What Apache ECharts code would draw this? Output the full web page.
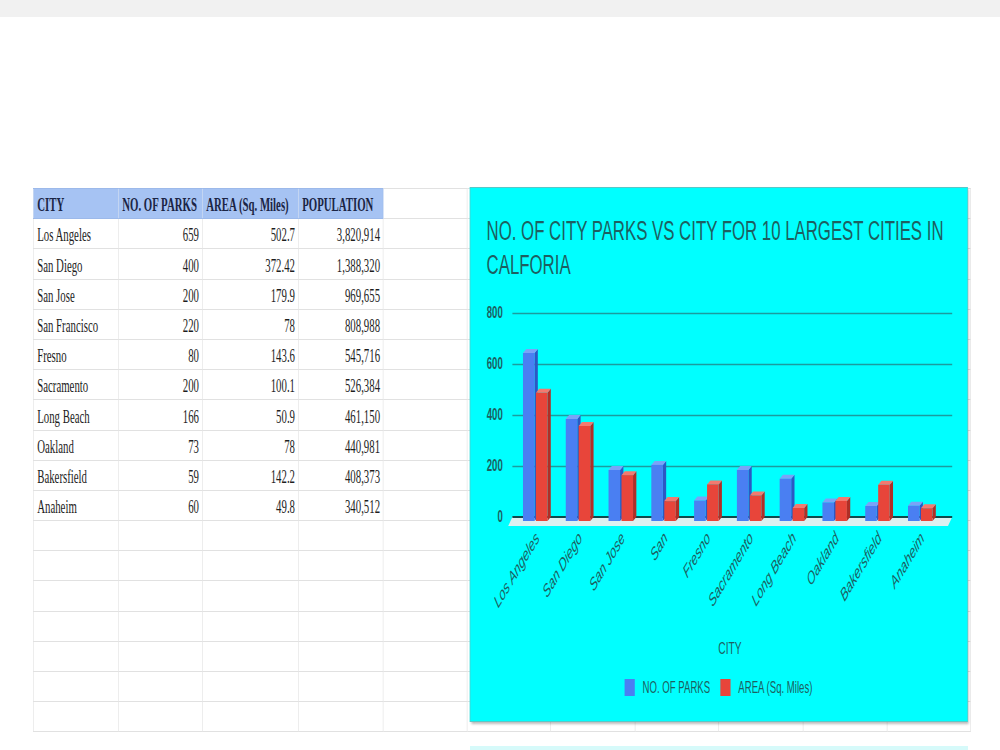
<!DOCTYPE html>
<html>
<head>
<meta charset="utf-8">
<script src="https://cdn.jsdelivr.net/npm/echarts/dist/echarts.min.js"></script>
<style>
  html, body { margin: 0; padding: 0; background: #ffffff; width: 1000px; height: 750px; overflow: hidden; }
  #topbar { position: absolute; left: 0; top: 0; width: 1000px; height: 17px; background: #f1f1f1; }
  #bottomstrip { position: absolute; left: 470px; top: 746px; width: 498px; height: 4px; background: #d6fafa; }
  #wrap { position: absolute; left: 0; top: 0; width: 1666.67px; height: 750px; transform: scaleX(0.6); transform-origin: 0 0; }
  #tbl { position: absolute; left: 55px; top: 188px; border-collapse: collapse; table-layout: fixed; }
  #tbl td { box-sizing: border-box; height: 30.2px; border: 1.4px solid #e1e1e1; padding: 0 5px 3px 6px; vertical-align: bottom;
            font-family: 'Liberation Serif', 'Times New Roman', serif; font-size: 18px; line-height: 20px; color: #1e1e1e;
            white-space: nowrap; overflow: hidden; }
  #tbl td.num { text-align: right; }
  #tbl tr.hdr td { font-weight: bold; color: #1b2545; }
  #tbl tr.hdr td.hb { background: #a6c3f3; border-color: #9cb9ea; }
  #chartbox { position: absolute; left: 783.33px; top: 187px; width: 830px; height: 535px; box-sizing: border-box;
              background: #00ffff; border: 1px solid #59c7c7; box-shadow: 2px 2px 3px rgba(0,0,0,0.28); }
  #chart { position: absolute; left: 0; top: 0; width: 828px; height: 533px; }
</style>
</head>
<body>
<div id="topbar"></div>
<div id="bottomstrip"></div>
<div id="wrap">
  <table id="tbl"></table>
  <div id="chartbox"><div id="chart"></div></div>
</div>
<script>
// ---------------- data ----------------
const headers = ['CITY', 'NO. OF PARKS', 'AREA (Sq. Miles)', 'POPULATION'];
const cities = ['Los Angeles', 'San Diego', 'San Jose', 'San Francisco', 'Fresno', 'Sacramento', 'Long Beach', 'Oakland', 'Bakersfield', 'Anaheim'];
const parks = [659, 400, 200, 220, 80, 200, 166, 73, 59, 60];
const area = [502.7, 372.42, 179.9, 78, 143.6, 100.1, 50.9, 78, 142.2, 49.8];
const population = [3820914, 1388320, 969655, 808988, 545716, 526384, 461150, 440981, 408373, 340512];
const axisLabels = ['Los Angeles', 'San Diego', 'San Jose', 'San', 'Fresno', 'Sacramento', 'Long Beach', 'Oakland', 'Bakersfield', 'Anaheim'];
const yTicks = [0, 200, 400, 600, 800];
const seriesNames = ['NO. OF PARKS', 'AREA (Sq. Miles)'];
const chartTitle = 'NO. OF CITY PARKS VS CITY FOR 10 LARGEST CITIES IN\nCALFORIA';
const xAxisName = 'CITY';

// ---------------- spreadsheet table ----------------
const colWidths = [141.7, 140, 160, 141.7, 140, 138.3, 141.7, 138.3, 141.7, 140, 138.3];
const totalRows = 18;
const tbl = document.getElementById('tbl');
const cg = document.createElement('colgroup');
colWidths.forEach(w => { const c = document.createElement('col'); c.style.width = w + 'px'; cg.appendChild(c); });
tbl.appendChild(cg);
tbl.style.width = colWidths.reduce((a, b) => a + b, 0) + 'px';
for (let r = 0; r < totalRows; r++) {
  const tr = document.createElement('tr');
  if (r === 0) tr.className = 'hdr';
  for (let c = 0; c < colWidths.length; c++) {
    const td = document.createElement('td');
    if (r === 0 && c < headers.length) { td.textContent = headers[c]; td.className = 'hb'; }
    else if (r >= 1 && r <= cities.length && c < 4) {
      const i = r - 1;
      if (c === 0) td.textContent = cities[i];
      else {
        td.className = 'num';
        if (c === 1) td.textContent = String(parks[i]);
        if (c === 2) td.textContent = String(area[i]);
        if (c === 3) td.textContent = population[i].toLocaleString('en-US');
      }
    }
    tr.appendChild(td);
  }
  tbl.appendChild(tr);
}

// ---------------- chart ----------------
const TEXT = '#1d5f61';
const DX = 5.5, DY = 4;
const faceColors = [
  { front: '#4a7ff2', side: '#2c58c4', top: '#7aa3f7' },
  { front: '#e8453a', side: '#b02e26', top: '#f27a70' }
];
const frontOffset = [0.163, 0.466];
const frontWidth = 0.27;

function barRenderer(k) {
  return function (params, api) {
    const i = api.value(0), v = api.value(1);
    const band = api.size([1, 0])[0];
    const top = api.coord([i, v]);
    const base = api.coord([i, 0]);
    const fw = band * frontWidth;
    const fx = top[0] - band / 2 + band * frontOffset[k];
    const fTop = top[1] + DY, fBot = base[1] + DY;
    const col = faceColors[k];
    return {
      type: 'group',
      children: [
        { type: 'polygon', shape: { points: [[fx + fw, fTop], [fx + fw + DX, top[1]], [fx + fw + DX, base[1]], [fx + fw, fBot]] }, style: { fill: col.side } },
        { type: 'polygon', shape: { points: [[fx, fTop], [fx + fw, fTop], [fx + fw + DX, top[1]], [fx + DX, top[1]]] }, style: { fill: col.top } },
        { type: 'rect', shape: { x: fx, y: fTop, width: fw, height: fBot - fTop }, style: { fill: col.front } }
      ]
    };
  };
}

function floorRenderer(params, api) {
  const cs = params.coordSys;
  const left = cs.x - 6, right = cs.x + cs.width + 14;
  const y0 = api.coord([0, 0])[1];
  const children = [];
  children.push({ type: 'polygon', shape: { points: [[left, y0], [right, y0], [right - 7, y0 + 9], [left - 7, y0 + 9]] }, style: { fill: '#dcf1f1' } });
  yTicks.forEach(t => {
    if (t === 0) return;
    const y = Math.round(api.coord([0, t])[1]) + 0.5;
    children.push({ type: 'line', shape: { x1: left, y1: y, x2: right, y2: y }, style: { stroke: '#1c9c9e', lineWidth: 1.4 } });
  });
  children.push({ type: 'line', shape: { x1: left, y1: y0, x2: right, y2: y0 }, style: { stroke: '#0f4a4c', lineWidth: 2 } });
  return { type: 'group', children: children };
}

const chart = echarts.init(document.getElementById('chart'), null, { renderer: 'svg' });
chart.setOption({
  animation: false,
  backgroundColor: 'transparent',
  textStyle: { fontFamily: 'Liberation Sans, Arial, sans-serif' },
  title: {
    text: chartTitle, left: 22, top: 20,
    textStyle: { fontSize: 28, fontWeight: 'normal', color: TEXT, lineHeight: 34, fontFamily: 'Liberation Sans, Arial, sans-serif' }
  },
  legend: {
    data: seriesNames, top: 486, left: 'center', icon: 'rect', itemWidth: 17, itemHeight: 17, itemGap: 17,
    textStyle: { fontSize: 16, color: TEXT, padding: [0, 0, 0, 8] }
  },
  grid: { left: 76, right: 39, top: 125, bottom: 204 },
  xAxis: {
    type: 'category', data: axisLabels,
    axisLine: { show: false }, axisTick: { show: false },
    axisLabel: { interval: 0, rotate: 45, fontStyle: 'italic', fontSize: 18, color: TEXT, margin: 18 },
    name: xAxisName, nameLocation: 'middle', nameGap: 122,
    nameTextStyle: { fontSize: 17, color: TEXT }
  },
  yAxis: {
    type: 'value', min: 0, max: 800, interval: 200,
    axisLine: { show: false }, axisTick: { show: false }, splitLine: { show: false },
    axisLabel: { fontSize: 16, fontWeight: 'bold', color: TEXT, margin: 22 }
  },
  series: [
    { type: 'custom', name: 'floor', silent: true, z: 1, renderItem: floorRenderer, data: [[0, 0]], encode: { x: 0, y: 1 } },
    { type: 'custom', name: seriesNames[0], z: 2, itemStyle: { color: faceColors[0].front }, renderItem: barRenderer(0),
      data: parks.map((v, i) => [i, v]), encode: { x: 0, y: 1 } },
    { type: 'custom', name: seriesNames[1], z: 3, itemStyle: { color: faceColors[1].front }, renderItem: barRenderer(1),
      data: area.map((v, i) => [i, v]), encode: { x: 0, y: 1 } }
  ]
});
</script>
</body>
</html>
